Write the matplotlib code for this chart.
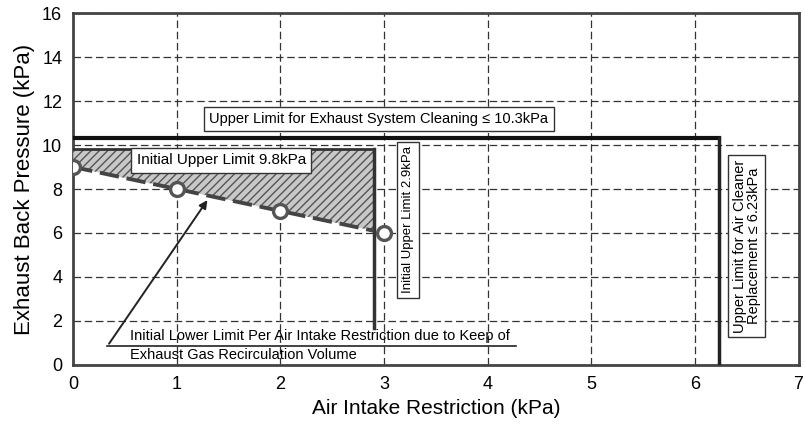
import numpy as np
import matplotlib.pyplot as plt
from matplotlib.patches import Polygon

plt.rcParams['font.family'] = ['Liberation Sans', 'DejaVu Sans']

# data
air_intake = [0, 1, 2, 3]          # kPa
back_pressure = [9.0, 8.0, 7.0, 6.0]  # kPa
exhaust_limit = 10.3
air_cleaner_limit = 6.23
init_upper_bp = 9.8
init_upper_air = 2.9
x_ticks = [0, 1, 2, 3, 4, 5, 6, 7]
y_ticks = [0, 2, 4, 6, 8, 10, 12, 14, 16]

fig = plt.figure(figsize=(8.05, 4.36), dpi=100)
ax = fig.add_axes([0.091, 0.163, 0.901, 0.807])
ax.set_xlim(0, 7)
ax.set_ylim(0, 16)
ax.set_xticks(x_ticks)
ax.set_yticks(y_ticks)
ax.tick_params(length=0, labelsize=13, pad=8)
ax.grid(True, linestyle=(0, (6, 3)), color='#333333', linewidth=0.9)
for s in ax.spines.values():
    s.set_linewidth(2)
    s.set_color('#444444')

# hatched region between initial limits and lower limit line
bp_at_edge = np.interp(init_upper_air, air_intake, back_pressure)
poly = [(0, init_upper_bp), (init_upper_air, init_upper_bp),
        (init_upper_air, bp_at_edge), (0, back_pressure[0])]
ax.add_patch(Polygon(poly, closed=True, facecolor='#c8c8c8', edgecolor='#555555',
                     hatch='////', linewidth=0, zorder=3))
ax.plot([0, init_upper_air], [init_upper_bp, init_upper_bp], color='#333333', lw=2, zorder=4)
ax.plot([init_upper_air, init_upper_air], [init_upper_bp, 1.7], color='#333333', lw=2.5, zorder=4)

# lower limit dashed line
xs = [0, 1, 2, init_upper_air]
ys = [back_pressure[0], back_pressure[1], back_pressure[2], bp_at_edge]
ax.plot(xs, ys, color='#444444', lw=2.8, ls=(0, (5, 2)), zorder=5)
ax.plot(air_intake, back_pressure, 'o', ms=10, mfc='white', mec='#555555', mew=2.4, zorder=6)

# upper limits
ax.plot([0, air_cleaner_limit], [exhaust_limit, exhaust_limit], color='#111111', lw=3, zorder=4)
ax.plot([air_cleaner_limit, air_cleaner_limit], [exhaust_limit, 0], color='#222222', lw=2.5, zorder=4)

box = dict(boxstyle='square,pad=0.35', facecolor='white', edgecolor='#333333', lw=1)
ax.text(2.95, 11.2, 'Upper Limit for Exhaust System Cleaning \u2264 10.3kPa',
        ha='center', va='center', fontsize=10.5, bbox=box, zorder=7)
ax.text(1.43, 9.3, 'Initial Upper Limit 9.8kPa', ha='center', va='center',
        fontsize=11, bbox=box, zorder=7)
ax.text(3.23, 6.6, 'Initial Upper Limit 2.9kPa', ha='center', va='center',
        rotation=90, fontsize=9.5, bbox=box, zorder=7)
ax.text(6.5, 5.4, 'Upper Limit for Air Cleaner\nReplacement \u2264 6.23kPa', ha='center',
        va='center', rotation=90, fontsize=10.5, bbox=dict(box, pad=None, boxstyle='square,pad=0.3'),
        zorder=7, linespacing=1.0)

# annotation for lower limit
ax.plot([0.33, 4.27], [0.86, 0.86], color='#222222', lw=1.2, zorder=4)
ax.annotate('', xy=(1.31, 7.6), xytext=(0.33, 0.86),
            arrowprops=dict(arrowstyle='-|>', color='#222222', lw=1.4, mutation_scale=12), zorder=7)
ax.text(0.55, 0.98, 'Initial Lower Limit Per Air Intake Restriction due to Keep of',
        ha='left', va='bottom', fontsize=10.5, zorder=7)
ax.text(0.55, 0.75, 'Exhaust Gas Recirculation Volume',
        ha='left', va='top', fontsize=10.5, zorder=7)

ax.set_xlabel('Air Intake Restriction (kPa)', fontsize=15, labelpad=4)
ax.set_ylabel('Exhaust Back Pressure (kPa)', fontsize=16, labelpad=5)

fig.savefig('out.png', dpi=100)
